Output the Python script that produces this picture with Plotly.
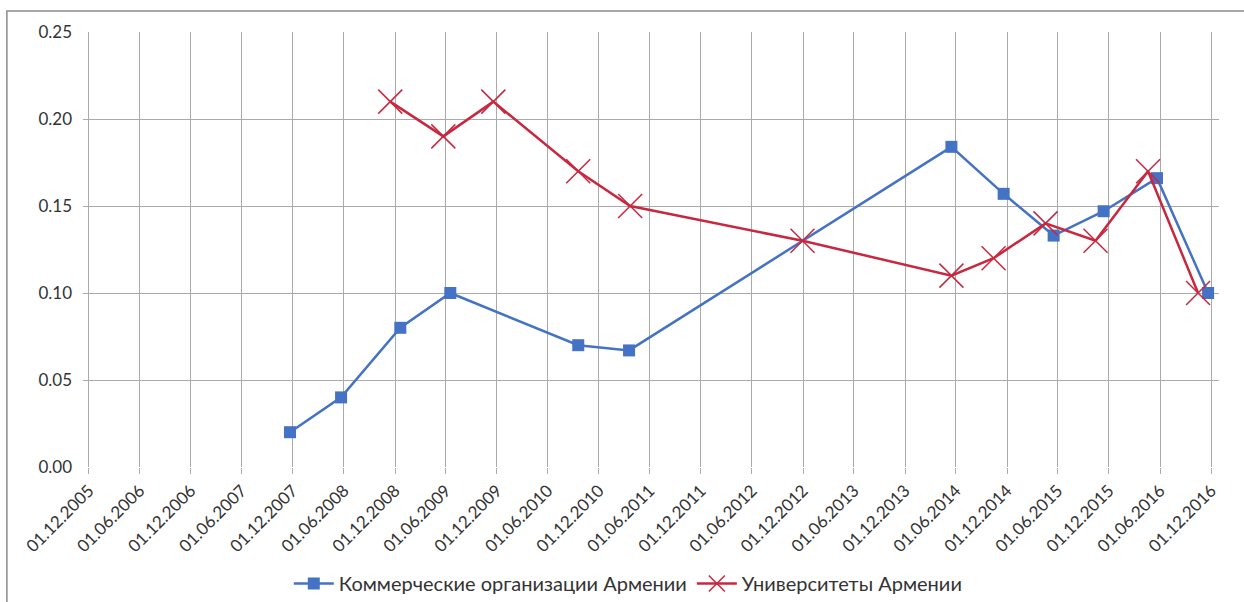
import plotly.graph_objects as go

# Semi-annual tick dates on the date axis
tick_dates = [
    "2005-12-01", "2006-06-01", "2006-12-01", "2007-06-01", "2007-12-01",
    "2008-06-01", "2008-12-01", "2009-06-01", "2009-12-01", "2010-06-01",
    "2010-12-01", "2011-06-01", "2011-12-01", "2012-06-01", "2012-12-01",
    "2013-06-01", "2013-12-01", "2014-06-01", "2014-12-01", "2015-06-01",
    "2015-12-01", "2016-06-01", "2016-12-01",
]
tick_labels = [
    "01.12.2005", "01.06.2006", "01.12.2006", "01.06.2007", "01.12.2007",
    "01.06.2008", "01.12.2008", "01.06.2009", "01.12.2009", "01.06.2010",
    "01.12.2010", "01.06.2011", "01.12.2011", "01.06.2012", "01.12.2012",
    "01.06.2013", "01.12.2013", "01.06.2014", "01.12.2014", "01.06.2015",
    "01.12.2015", "01.06.2016", "01.12.2016",
]

# Commercial organisations of Armenia
business_dates = [
    "2007-11-21", "2008-05-22", "2008-12-20", "2009-06-17", "2010-09-18",
    "2011-03-19", "2014-05-16", "2014-11-19", "2015-05-17", "2015-11-12",
    "2016-05-21", "2016-11-20",
]
business_values = [0.020, 0.040, 0.080, 0.100, 0.070, 0.067, 0.184, 0.157,
                   0.133, 0.147, 0.166, 0.100]

# Universities of Armenia
univ_dates = [
    "2008-11-14", "2009-05-23", "2009-11-18", "2010-09-18", "2011-03-23",
    "2012-11-29", "2014-05-16", "2014-10-14", "2015-04-18", "2015-10-14",
    "2016-04-19", "2016-10-15",
]
univ_values = [0.21, 0.19, 0.21, 0.17, 0.15, 0.13, 0.11, 0.12, 0.14, 0.13,
               0.17, 0.10]

y_ticks = [0.00, 0.05, 0.10, 0.15, 0.20, 0.25]

BLUE = "#4472C4"
RED = "#C8283F"
GRID = "#aaaaaa"
TEXT = "#333333"
FONT = "Lato"

fig = go.Figure()

fig.add_trace(go.Scatter(
    x=business_dates, y=business_values,
    mode="lines+markers",
    name="Коммерческие организации Армении",
    line=dict(color=BLUE, width=2.5),
    marker=dict(symbol="square", size=12, color=BLUE),
))

fig.add_trace(go.Scatter(
    x=univ_dates, y=univ_values,
    mode="lines+markers",
    name="Университеты Армении",
    line=dict(color=RED, width=2.5),
    marker=dict(symbol="x-thin-open", size=24, color=RED,
                line=dict(color=RED, width=1.5)),
))

# Chart frame around the whole figure (only its top and left edges fall inside the page)
fig.add_shape(
    type="rect", xref="paper", yref="paper",
    x0=-0.067, x1=1.1, y0=-0.5, y1=1.048,
    line=dict(color="#8c8c8c", width=1.5),
    fillcolor="rgba(0,0,0,0)", layer="below",
)

fig.update_layout(
    width=1244, height=602,
    margin=dict(l=83, r=25, t=32, b=135, autoexpand=False),
    paper_bgcolor="white", plot_bgcolor="white",
    font=dict(family=FONT, size=16, color=TEXT),
    showlegend=True,
    legend=dict(
        orientation="h", x=0.48, xanchor="center",
        y=-0.268, yanchor="middle",
        font=dict(family=FONT, size=20, color=TEXT),
        itemwidth=40, tracegroupgap=0,
    ),
    xaxis=dict(
        type="date", automargin=False,
        range=["2005-11-10", "2016-12-29"],
        tickmode="array", tickvals=tick_dates, ticktext=tick_labels,
        tickangle=-45,
        tickfont=dict(family=FONT, size=17, color=TEXT),
        showgrid=True, gridcolor=GRID, gridwidth=1,
        ticks="outside", ticklen=6, tickcolor=GRID,
        showline=False, zeroline=False,
    ),
    yaxis=dict(
        range=[0, 0.25], automargin=False,
        tickmode="array", tickvals=y_ticks,
        tickformat=".2f",
        tickfont=dict(family=FONT, size=17, color=TEXT),
        showgrid=True, gridcolor=GRID, gridwidth=1,
        ticks="", showline=False, zeroline=False,
        ticklabelstandoff=10,
    ),
)

fig.write_html("out.html")
